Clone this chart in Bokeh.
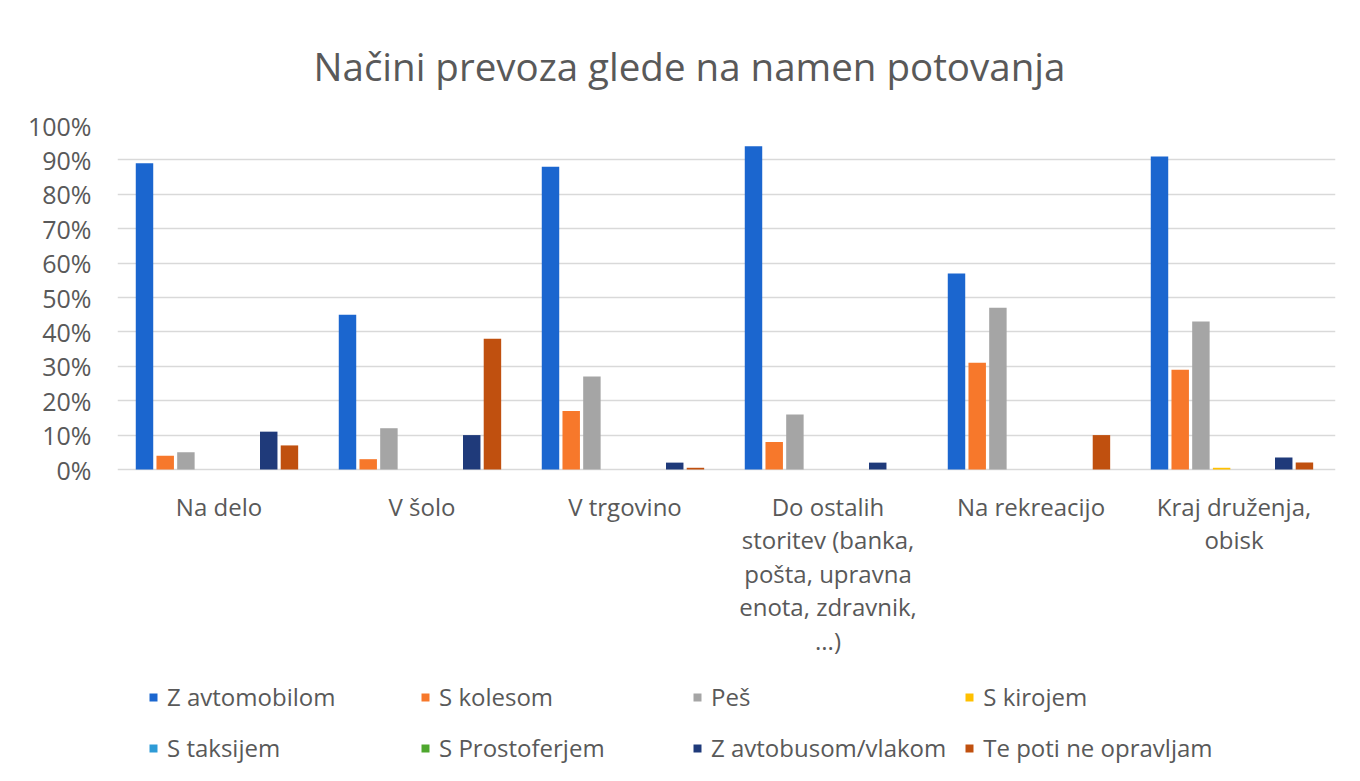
from bokeh.plotting import figure
from bokeh.models import (ColumnDataSource, FactorRange, Range1d, Legend, LegendItem,
                          FixedTicker)
from bokeh.transform import dodge
from bokeh.embed import file_html
from bokeh.resources import INLINE
from bokeh.core.properties import value

# ---- data ----
categories = ["Na delo", "V šolo", "V trgovino",
              "Do ostalih storitev (banka, pošta, upravna enota, zdravnik, ...)",
              "Na rekreacijo", "Kraj druženja, obisk"]
category_labels = ["Na delo", "V šolo", "V trgovino",
                   "Do ostalih\nstoritev (banka,\npošta, upravna\nenota, zdravnik,\n...)",
                   "Na rekreacijo", "Kraj druženja,\nobisk"]

series_names = ["Z avtomobilom", "S kolesom", "Peš", "S kirojem",
                "S taksijem", "S Prostoferjem", "Z avtobusom/vlakom", "Te poti ne opravljam"]

z_avtomobilom = [89, 45, 88, 94, 57, 91]
s_kolesom = [4, 3, 17, 8, 31, 29]
pes = [5, 12, 27, 16, 47, 43]
s_kirojem = [0, 0, 0, 0, 0, 0.5]
s_taksijem = [0, 0, 0, 0, 0, 0]
s_prostoferjem = [0, 0, 0, 0, 0, 0]
z_avtobusom_vlakom = [11, 10, 2, 2, 0, 3.5]
te_poti_ne_opravljam = [7, 38, 0.5, 0, 10, 2]

y_ticks = [0, 10, 20, 30, 40, 50, 60, 70, 80, 90, 100]

colors = ["#1B66CF", "#F7782B", "#A5A5A5", "#FFC000",
          "#2E9BD6", "#4EA72E", "#1F3A7A", "#C0500F"]

series_values = [z_avtomobilom, s_kolesom, pes, s_kirojem,
                 s_taksijem, s_prostoferjem, z_avtobusom_vlakom, te_poti_ne_opravljam]
keys = ["s%d" % i for i in range(len(series_names))]

data = {"cat": categories, "label": category_labels}
for k, v in zip(keys, series_values):
    data[k] = v
source = ColumnDataSource(data)

FONT = "Open Sans"
TXT = "#595959"

W, H = 1360, 781
TOP, LEFT, RIGHT = 125, 117, 25
PLOT_H = 344                      # pixel height of 0..100 %
unit = PLOT_H / 100.0
frame_h = H - TOP
y_start = -(frame_h - PLOT_H) / unit

p = figure(x_range=FactorRange(factors=categories, range_padding=0),
           y_range=Range1d(y_start, 100),
           width=W, height=H, output_backend="svg", toolbar_location=None,
           min_border_left=LEFT, min_border_right=RIGHT, min_border_top=TOP,
           min_border_bottom=0)

p.title.text = "Načini prevoza glede na namen potovanja"
p.title.text_font = FONT
p.title.text_font_size = "38.5px"
p.title.text_font_style = "normal"
p.title.text_color = TXT
p.title.align = "left"
p.title.offset = 196
p.title.standoff = 68

slot = 0.102
bw = 0.086
renderers = []
for i, (k, c) in enumerate(zip(keys, colors)):
    r = p.vbar(x=dodge("cat", (i - 3.5) * slot - 0.01, range=p.x_range), top=k, width=bw,
               source=source, color=c, line_color=None)
    renderers.append(r)

# category labels under the bars
p.text(x="cat", y=-20 / unit, text="label", source=source,
       text_font=value(FONT), text_font_size="24px", text_color=TXT,
       text_align="center", text_baseline="top", text_line_height=1.02)

# axes
p.yaxis.ticker = FixedTicker(ticks=y_ticks)
p.yaxis.major_label_overrides = {t: "%d%%" % t for t in y_ticks}
p.yaxis.axis_line_color = None
p.yaxis.major_tick_line_color = None
p.yaxis.minor_tick_line_color = None
p.yaxis.major_label_standoff = 20
p.yaxis.major_label_text_font = FONT
p.yaxis.major_label_text_font_size = "25px"
p.yaxis.major_label_text_color = TXT
p.xaxis.visible = False

p.xgrid.grid_line_color = None
p.ygrid.grid_line_color = "#D9D9D9"
p.ygrid.grid_line_width = 1.5
p.outline_line_color = None

legend = Legend(items=[LegendItem(label=n, renderers=[r]) for n, r in zip(series_names, renderers)],
                orientation="horizontal", ncols=4)
legend.label_text_font = FONT
legend.label_text_font_size = "24px"
legend.label_text_color = TXT
legend.glyph_width = 10
legend.glyph_height = 10
legend.label_standoff = 9
legend.label_width = 235
legend.label_height = 24
legend.spacing = 18
legend.border_line_color = None
legend.background_fill_alpha = 0
legend.margin = 0
legend.padding = 0
legend.location = (31, 17)
p.add_layout(legend, "center")

open("out.html", "w").write(file_html(p, INLINE))
